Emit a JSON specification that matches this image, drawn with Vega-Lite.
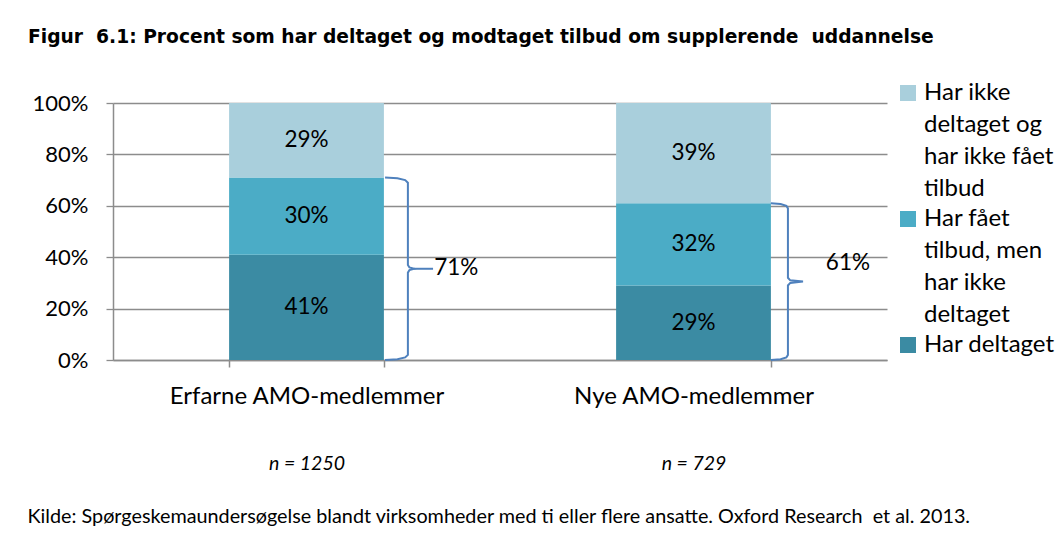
{
  "$schema": "https://vega.github.io/schema/vega-lite/v6.json",
  "width": 774,
  "height": 257,
  "autosize": {"type": "none"},
  "padding": {"left": 113, "top": 103, "right": 172, "bottom": 175},
  "background": "white",
  "title": {
    "text": "Figur \u00a06.1: Procent som har deltaget og modtaget tilbud om supplerende \u00a0uddannelse",
    "anchor": "start",
    "frame": "group",
    "dx": -85,
    "offset": 34,
    "font": "DejaVu Sans",
    "fontSize": 18.7,
    "fontWeight": "bold",
    "color": "#000000"
  },
  "config": {
    "view": {"stroke": null},
    "font": "Lato",
    "style": {"guide-label": {"lineHeight": 32}}
  },
  "datasets": {
    "bars": [
      {"group": "Erfarne AMO-medlemmer", "category": "Har deltaget", "value": 0.41, "rank": 1},
      {"group": "Erfarne AMO-medlemmer", "category": "Har fået tilbud, men har ikke deltaget", "value": 0.30, "rank": 2},
      {"group": "Erfarne AMO-medlemmer", "category": "Har ikke deltaget og har ikke fået tilbud", "value": 0.29, "rank": 3},
      {"group": "Nye AMO-medlemmer", "category": "Har deltaget", "value": 0.29, "rank": 1},
      {"group": "Nye AMO-medlemmer", "category": "Har fået tilbud, men har ikke deltaget", "value": 0.32, "rank": 2},
      {"group": "Nye AMO-medlemmer", "category": "Har ikke deltaget og har ikke fået tilbud", "value": 0.39, "rank": 3}
    ],
    "braces": [
      {"brace": "a", "ord": 1, "bx": 0.703, "by": 0.710},
      {"brace": "a", "ord": 2, "bx": 0.735, "by": 0.707},
      {"brace": "a", "ord": 3, "bx": 0.755, "by": 0.700},
      {"brace": "a", "ord": 4, "bx": 0.762, "by": 0.690},
      {"brace": "a", "ord": 5, "bx": 0.762, "by": 0.370},
      {"brace": "a", "ord": 6, "bx": 0.766, "by": 0.360},
      {"brace": "a", "ord": 7, "bx": 0.778, "by": 0.355},
      {"brace": "a", "ord": 8, "bx": 0.766, "by": 0.350},
      {"brace": "a", "ord": 9, "bx": 0.762, "by": 0.340},
      {"brace": "a", "ord": 10, "bx": 0.762, "by": 0.020},
      {"brace": "a", "ord": 11, "bx": 0.755, "by": 0.010},
      {"brace": "a", "ord": 12, "bx": 0.735, "by": 0.003},
      {"brace": "a", "ord": 13, "bx": 0.703, "by": 0.000},
      {"brace": "a2", "ord": 1, "bx": 0.778, "by": 0.355},
      {"brace": "a2", "ord": 2, "bx": 0.827, "by": 0.355},
      {"brace": "b", "ord": 1, "bx": 1.700, "by": 0.610},
      {"brace": "b", "ord": 2, "bx": 1.725, "by": 0.607},
      {"brace": "b", "ord": 3, "bx": 1.740, "by": 0.600},
      {"brace": "b", "ord": 4, "bx": 1.744, "by": 0.590},
      {"brace": "b", "ord": 5, "bx": 1.744, "by": 0.320},
      {"brace": "b", "ord": 6, "bx": 1.750, "by": 0.310},
      {"brace": "b", "ord": 7, "bx": 1.783, "by": 0.305},
      {"brace": "b", "ord": 8, "bx": 1.750, "by": 0.300},
      {"brace": "b", "ord": 9, "bx": 1.744, "by": 0.290},
      {"brace": "b", "ord": 10, "bx": 1.744, "by": 0.020},
      {"brace": "b", "ord": 11, "bx": 1.740, "by": 0.010},
      {"brace": "b", "ord": 12, "bx": 1.725, "by": 0.003},
      {"brace": "b", "ord": 13, "bx": 1.700, "by": 0.000}
    ],
    "braceLabels": [
      {"lx": 0.830, "ly": 0.358, "label": "71%"},
      {"lx": 1.842, "ly": 0.377, "label": "61%"}
    ],
    "nlabels": [
      {"nlab": "n = 1250"},
      {"nlab": "n = 729"}
    ]
  },
  "layer": [
    {
      "data": {"name": "bars"},
      "mark": {"type": "bar"},
      "encoding": {
        "x": {
          "field": "group", "type": "nominal", "sort": null,
          "scale": {"domain": ["Erfarne AMO-medlemmer", "Nye AMO-medlemmer"], "paddingInner": 0.6, "paddingOuter": 0.3},
          "axis": {
            "title": null, "labelAngle": 0, "labelFontSize": 24, "labelColor": "#000000", "labelPadding": 17, "labelLimit": 0,
            "domainColor": "#8c8c8c", "domainWidth": 1.5, "tickColor": "#8c8c8c", "tickSize": 7, "tickWidth": 1.5,
            "tickBand": "extent", "grid": false
          }
        },
        "y": {
          "field": "value", "type": "quantitative", "stack": "zero",
          "scale": {"domain": [0, 1], "nice": false},
          "axis": {
            "title": null, "format": ".0%", "values": [0, 0.2, 0.4, 0.6, 0.8, 1],
            "grid": true, "gridColor": "#8c8c8c", "gridWidth": 1.3,
            "domainColor": "#8c8c8c", "domainWidth": 1.5, "tickColor": "#8c8c8c", "tickSize": 7, "tickWidth": 1.3,
            "labelFontSize": 22, "labelColor": "#000000", "labelPadding": 18
          }
        },
        "color": {
          "field": "category", "type": "nominal",
          "scale": {
            "domain": ["Har ikke deltaget og har ikke fået tilbud", "Har fået tilbud, men har ikke deltaget", "Har deltaget"],
            "range": ["#a9cfdc", "#4bacc6", "#3b8ba3"]
          },
          "legend": {
            "orient": "none", "legendX": 783, "legendY": -22, "title": null,
            "symbolType": "square", "symbolSize": 256, "symbolStrokeWidth": 0,
            "labelFontSize": 24, "labelColor": "#000000", "labelLimit": 0, "labelOffset": 4, "rowPadding": 6,
            "labelExpr": "datum.label == 'Har deltaget' ? datum.label : datum.label == 'Har fået tilbud, men har ikke deltaget' ? ['Har fået', 'tilbud, men', 'har ikke', 'deltaget'] : ['Har ikke', 'deltaget og', 'har ikke fået', 'tilbud']"
          }
        },
        "order": {"field": "rank", "type": "quantitative"}
      }
    },
    {
      "data": {"name": "bars"},
      "mark": {"type": "text", "fontSize": 22.5, "color": "#000000"},
      "encoding": {
        "x": {
          "field": "group", "type": "nominal", "sort": null,
          "scale": {"domain": ["Erfarne AMO-medlemmer", "Nye AMO-medlemmer"], "paddingInner": 0.6, "paddingOuter": 0.3},
          "axis": null
        },
        "y": {"field": "value", "type": "quantitative", "stack": "zero", "bandPosition": 0.5},
        "detail": {"field": "category"},
        "order": {"field": "rank", "type": "quantitative"},
        "text": {"field": "value", "format": ".0%"}
      }
    },
    {
      "data": {"name": "braces"},
      "mark": {"type": "line", "color": "#4f81bd", "strokeWidth": 2, "clip": false},
      "encoding": {
        "x": {"field": "bx", "type": "quantitative", "scale": {"domain": [0, 2], "nice": false, "zero": false}, "axis": null},
        "y": {"field": "by", "type": "quantitative"},
        "detail": {"field": "brace"},
        "order": {"field": "ord", "type": "quantitative"}
      }
    },
    {
      "data": {"name": "braceLabels"},
      "mark": {"type": "text", "fontSize": 22.5, "color": "#000000", "align": "left", "baseline": "middle"},
      "encoding": {
        "x": {"field": "lx", "type": "quantitative", "scale": {"domain": [0, 2], "nice": false, "zero": false}, "axis": null},
        "y": {"field": "ly", "type": "quantitative"},
        "text": {"field": "label"}
      }
    },
    {
      "data": {"name": "nlabels"},
      "mark": {"type": "point", "opacity": 0},
      "encoding": {
        "x": {
          "field": "nlab", "type": "nominal", "sort": null,
          "scale": {"domain": ["n = 1250", "n = 729"], "paddingInner": 0.6, "paddingOuter": 0.3},
          "axis": {
            "orient": "bottom", "offset": 94, "domain": false, "ticks": false, "labelAngle": 0,
            "labelFontSize": 19.5, "labelFontStyle": "italic", "labelColor": "#000000", "labelPadding": 0,
            "title": "Kilde: Spørgeskemaundersøgelse blandt virksomheder med ti eller flere ansatte. Oxford Research \u00a0et al. 2013.",
            "titleFont": "Lato", "titleFontSize": 19.8, "titleFontWeight": "normal", "titleColor": "#000000",
            "titleAnchor": "start", "titleAlign": "left", "titleX": -86, "titlePadding": 34
          }
        },
        "y": {"datum": 0}
      }
    }
  ],
  "resolve": {"scale": {"x": "independent"}, "axis": {"x": "independent"}}
}
